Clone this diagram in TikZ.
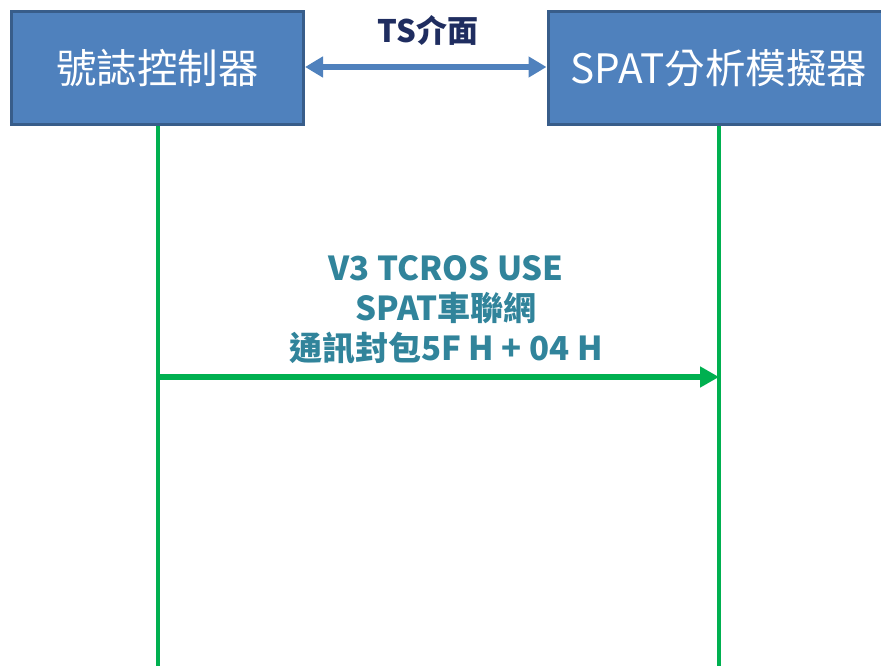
\documentclass[tikz,border=0pt]{standalone}
\usepackage{fontspec}
\setmainfont{Noto Sans CJK TC}
\usetikzlibrary{arrows.meta}
\definecolor{boxfill}{HTML}{4F81BD}
\definecolor{boxline}{HTML}{385D8A}
\definecolor{lifegreen}{HTML}{00B050}
\definecolor{labelteal}{HTML}{31849B}
\definecolor{tsnavy}{HTML}{1F2D60}
\begin{document}
\begin{tikzpicture}[x=1pt,y=-1pt,
  actor/.style={draw=boxline, fill=boxfill, line width=3pt, text=white,
    font=\fontsize{40.5}{48}\selectfont, inner sep=0pt, minimum height=113pt},
  lifeline/.style={draw=lifegreen, line width=4pt},
  msgarrow/.style={draw=lifegreen, line width=5.5pt, -{Triangle[length=19pt,width=20pt]}},
  tsarrow/.style={draw=boxfill, line width=5.5pt, {Triangle[length=18pt,width=20pt]}-{Triangle[length=18pt,width=20pt]}},
  msglabel/.style={text=labelteal, font=\fontsize{33}{40}\selectfont\bfseries, align=center, inner sep=0pt},
  tslabel/.style={text=tsnavy, font=\fontsize{31}{36}\selectfont\bfseries, inner sep=0pt}
]
\useasboundingbox (0,0) rectangle (881,666);
% lifelines
\coordinate (ctrlEnd) at (157.5,672);
\coordinate (simEnd) at (719,672);
\node[actor, minimum width=292pt] (ctrl) at (157.5,68) {號誌控制器};
\node[actor, minimum width=342pt] (sim) at (719,68) {SPAT分析模擬器};
\draw[lifeline] (ctrl.south) -- (ctrlEnd);
\draw[lifeline] (sim.south) -- (simEnd);
% TS interface
\coordinate (tsL) at (ctrl.east |- 0,67);
\coordinate (tsR) at (sim.west |- 0,67);
\draw[tsarrow] (tsL) -- (tsR);
\node[tslabel, anchor=base] (tslbl) at (428,43) {TS介面};
% message
\coordinate (mL) at (ctrl.south |- 0,377);
\coordinate (mR) at (sim.south |- 0,377);
\draw[msgarrow] (mL) -- (mR);
\node[msglabel] (msg) at (446,310) {V3 TCROS USE\\SPAT車聯網\\通訊封包5F H + 04 H};
\end{tikzpicture}
\end{document}
